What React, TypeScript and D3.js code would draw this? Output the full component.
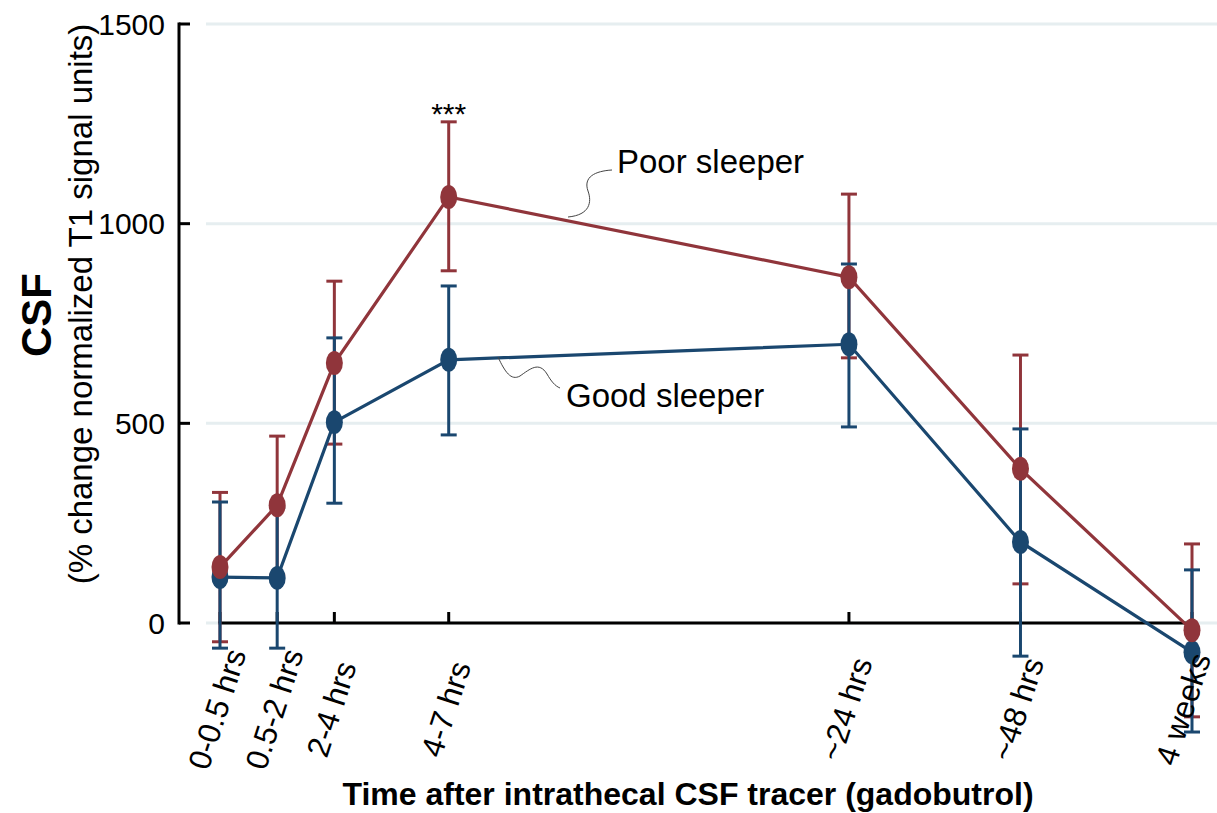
import React from "react";
import * as d3 from "d3";

const categories = ["0-0.5 hrs", "0.5-2 hrs", "2-4 hrs", "4-7 hrs", "~24 hrs", "~48 hrs", "4 weeks"];
const timePos = [0, 1, 2, 4, 11, 14, 17];
const poorMean = [140, 295, 651, 1067, 866, 386, -18];
const poorLow = [-47, 120, 448, 882, 664, 98, -235];
const poorHigh = [327, 468, 856, 1255, 1074, 671, 198];
const goodMean = [115, 113, 503, 659, 698, 203, -73];
const goodLow = [-63, -63, 300, 471, 491, -83, -273];
const goodHigh = [303, 289, 714, 844, 899, 486, 133];
const yTicks = [0, 500, 1000, 1500];

const RED = "#90353B";
const BLUE = "#1A476F";
const FONT = "'Liberation Sans', Arial, Helvetica, sans-serif";

export default function App() {
  const W = 1217, H = 813;
  const x = d3.scaleLinear().domain([0, 17]).range([220, 1192]);
  const y = d3.scaleLinear().domain([0, 1500]).range([623, 24]);
  const yAxisX = 179;

  const line = d3.line<number>().x((_, i) => x(timePos[i])).y((v) => y(v));

  const series = [
    { name: "poor", mean: poorMean, low: poorLow, high: poorHigh, color: RED },
    { name: "good", mean: goodMean, low: goodLow, high: goodHigh, color: BLUE },
  ];

  const errBars = (s: typeof series[0]) =>
    s.mean.map((_, i) => {
      const cx = x(timePos[i]);
      return (
        <g key={s.name + "e" + i} stroke={s.color} strokeWidth={3}>
          <line x1={cx} x2={cx} y1={y(s.low[i])} y2={y(s.high[i])} />
          <line x1={cx - 8} x2={cx + 8} y1={y(s.low[i])} y2={y(s.low[i])} />
          <line x1={cx - 8} x2={cx + 8} y1={y(s.high[i])} y2={y(s.high[i])} />
        </g>
      );
    });

  const lineAndDots = (s: typeof series[0]) => (
    <g key={s.name + "l"}>
      <path d={line(s.mean) || ""} fill="none" stroke={s.color} strokeWidth={3.2} />
      {s.mean.map((v, i) => (
        <ellipse key={i} cx={x(timePos[i])} cy={y(v)} rx={8.5} ry={12} fill={s.color} />
      ))}
    </g>
  );

  const poor = series[0], good = series[1];

  return (
    <svg
      width={W}
      height={H}
      style={{ position: "absolute", left: 0, top: 0, display: "block", background: "#fff" }}
      fontFamily={FONT}
    >
      {/* gridlines */}
      {yTicks.map((t) => (
        <line key={"g" + t} x1={206} x2={W} y1={y(t)} y2={y(t)} stroke="#e6eef0" strokeWidth={3} />
      ))}
      {/* y axis */}
      <line x1={yAxisX} x2={yAxisX} y1={y(1500) - 1.5} y2={y(0) + 1.5} stroke="#000" strokeWidth={3} />
      {yTicks.map((t) => (
        <g key={"yt" + t}>
          <line x1={yAxisX} x2={yAxisX + 11} y1={y(t)} y2={y(t)} stroke="#000" strokeWidth={3} />
          <text x={165} y={y(t)} textAnchor="end" dominantBaseline="central" fontSize={30} fill="#000">
            {t}
          </text>
        </g>
      ))}
      {/* x axis */}
      <line x1={x(0) - 1.5} x2={x(17) + 1.5} y1={y(0)} y2={y(0)} stroke="#000" strokeWidth={3} />
      {timePos.map((p, i) => (
        <line key={"xt" + i} x1={x(p)} x2={x(p)} y1={y(0)} y2={y(0) - 11} stroke="#000" strokeWidth={3} />
      ))}

      {/* data */}
      {errBars(poor)}
      {errBars(good)}
      {lineAndDots(good)}
      {lineAndDots(poor)}

      {/* x tick labels */}
      {categories.map((c, i) => (
        <text
          key={"xl" + i}
          transform={`translate(${x(timePos[i]) - (i === categories.length - 1 ? 9 : 3)},709) rotate(-72)`}
          textAnchor="middle"
          dominantBaseline="central"
          fontSize={31.5}
          fill="#000"
        >
          {c}
        </text>
      ))}

      {/* significance */}
      <text x={x(timePos[3])} y={y(poorHigh[3]) + 2} textAnchor="middle" fontSize={30} fill="#000">
        ***
      </text>

      {/* annotations */}
      <path
        d="M568,217 C590,215 592,202 588,191 C583,177 595,171 612,170"
        fill="none"
        stroke="#444"
        strokeWidth={1}
      />
      <text x={617} y={173} fontSize={33} fill="#000">
        Poor sleeper
      </text>
      <path
        d="M498,357 C505,372 511,381 520,376 C530,369 539,361 547,374 C551,381 555,386 560,388"
        fill="none"
        stroke="#444"
        strokeWidth={1}
      />
      <text x={566} y={407} fontSize={33} fill="#000">
        Good sleeper
      </text>

      {/* axis titles */}
      <text x={688} y={805} textAnchor="middle" fontSize={32} fontWeight="bold" fill="#000">
        Time after intrathecal CSF tracer (gadobutrol)
      </text>
      <text
        transform="translate(36,315) rotate(-90)"
        textAnchor="middle"
        dominantBaseline="central"
        fontSize={42}
        fontWeight="bold"
        fill="#000"
      >
        CSF
      </text>
      <text
        transform="translate(80,304) rotate(-90)"
        textAnchor="middle"
        dominantBaseline="central"
        fontSize={33}
        fill="#000"
      >
        (% change normalized T1 signal units)
      </text>
    </svg>
  );
}
